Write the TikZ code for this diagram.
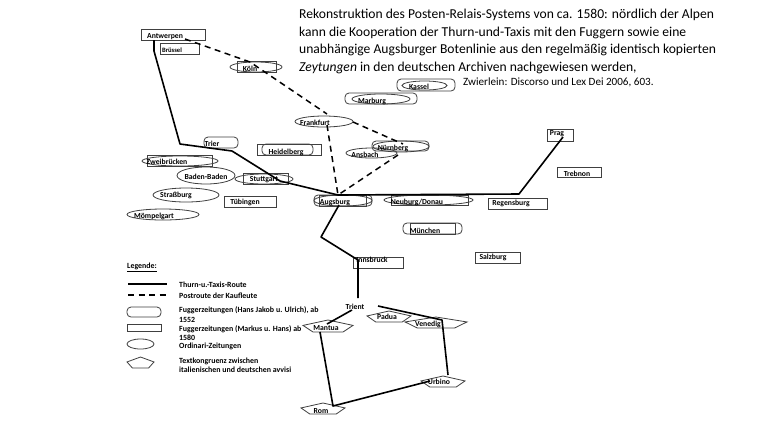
\documentclass[tikz,border=0pt]{standalone}
\usepackage{fontspec}
\usetikzlibrary{shapes.geometric}
\setmainfont{Carlito}
\newcommand\shp[6]{\node[#1,minimum width={(#5-#3)*1pt},minimum height={(#6-#4)*1pt}] (#2) at ({(#3+#5)/2},{(#4+#6)/2}) {};}
\newcommand\pent[5]{\draw[outl] ({#2},{#3+0.45*(#5-#3)}) -- ({(#2+#4)/2},{#3}) -- ({#4},{#3+0.45*(#5-#3)}) -- ({#4-0.2*(#4-#2)},{#5}) -- ({#2+0.2*(#4-#2)},{#5}) -- cycle;
  \coordinate (#1) at ({(#2+#4)/2},{(#3+#5)/2});}
\newcommand\lab[4]{\node[lab] (#1) at (#2,#3) {#4};}
\newcommand\leg[4]{\node[legt] (#1) at (#2,#3) {#4};}
\tikzset{
  outl/.style={draw=black!75,line width=0.8pt},
  rbx/.style={outl,rectangle,inner sep=0pt},
  pill/.style={outl,rectangle,rounded corners=4pt,inner sep=0pt},
  ell/.style={outl,ellipse,inner sep=0pt},
  lab/.style={font=\fontsize{7.7}{8}\selectfont\bfseries,text=black,inner sep=0pt},
  legt/.style={font=\fontsize{7.9}{8}\selectfont\bfseries,text=black,inner sep=0pt,anchor=west},
  ttl/.style={font=\fontsize{13.6}{15}\selectfont,inner sep=0pt,anchor=base west},
  taxis/.style={draw=black,line width=1.6pt,line join=round},
  post/.style={draw=black,line width=1.5pt,dash pattern=on 6pt off 4.5pt}
}
\begin{document}
\begin{tikzpicture}[x=1pt,y=-1pt]
\useasboundingbox[fill=white] (0,0) rectangle (768,432);
% title
\node[ttl] (t1) at (299,18.5) {Rekonstruktion des Posten-Relais-Systems von ca. 1580: nördlich der Alpen};
\node[ttl] (t2) at (299,36) {kann die Kooperation der Thurn-und-Taxis mit den Fuggern sowie eine};
\node[ttl] (t3) at (299,53.5) {unabhängige Augsburger Botenlinie aus den regelmäßig identisch kopierten};
\node[ttl] (t4) at (299,71) {\textit{Zeytungen} in den deutschen Archiven nachgewiesen werden,};
\node[ttl,font=\fontsize{11.1}{12}\selectfont] (t5) at (463,85.5) {Zwierlein: Discorso und Lex Dei 2006, 603.};
% shapes
\shp{rbx}{sAnt}{141}{29}{205}{40}
\shp{rbx}{sBru}{160}{43}{199}{54}
\shp{rbx}{sKoeR}{237}{61}{276}{72}
\shp{ell}{sKoeE}{230}{62}{282}{72}
\shp{ell}{sFra}{295}{116}{353}{127}
\shp{pill}{sKasR}{397}{79}{455}{91}
\shp{ell}{sKasE}{402}{81}{447}{90}
\shp{pill}{sMarR}{345}{93}{417}{104}
\shp{ell}{sMarE}{352}{94}{410}{104}
\shp{pill}{sNueR}{372}{141}{429}{151}
\shp{ell}{sNueE}{373}{141}{429}{152}
\shp{ell}{sAns}{346}{148}{397}{158}
\shp{rbx}{sHeiR}{257}{144}{321}{155}
\shp{pill}{sHeiP}{262}{144}{313}{155}
\shp{pill}{sTri}{204}{137}{238}{148}
\shp{rbx}{sZweR}{147}{155}{212}{166}
\shp{ell}{sZweE}{142}{156}{218}{166}
\shp{ell}{sBad}{177}{167}{235}{184}
\shp{rbx}{sStuR}{243}{173}{288}{184}
\shp{ell}{sStuE}{235}{174}{293}{184}
\shp{ell}{sStr}{153}{188}{219}{202}
\shp{rbx}{sTue}{224}{196}{276}{207}
\shp{ell}{sMoe}{127}{209}{199}{220}
\shp{pill}{sAugP}{314}{195}{372}{206}
\shp{rbx}{sAugR}{319}{195}{366}{206}
\shp{ell}{sAugE}{314}{195}{372}{206}
\shp{ell}{sNeuE}{384}{195}{473}{205}
\shp{rbx}{sNeuR}{391}{195}{468}{205}
\shp{rbx}{sReg}{488}{198}{547}{209}
\shp{pill}{sMueP}{403}{223}{462}{234}
\shp{rbx}{sMueR}{410}{223}{455}{234}
\shp{rbx}{sInn}{353}{257}{403}{268}
\shp{rbx}{sSal}{475}{252}{520}{263}
\shp{rbx}{sPra}{547}{129}{573}{141}
\shp{rbx}{sTre}{557}{167}{601}{177}
\pent{pPad}{367}{311}{411}{322}
\pent{pVen}{405}{317}{467}{328}
\pent{pMan}{303}{320}{353}{332}
\pent{pUrb}{421}{376}{465}{387}
\pent{pRom}{301}{403}{345}{414}
% waypoints
\coordinate (a0) at (154,40);
\coordinate (a1) at (154,51);
\coordinate (a2) at (180,144);
\coordinate (a3) at (232,151);
\coordinate (a4) at (280,181);
\coordinate (aug) at (338,195);
\coordinate (a5) at (519,194);
\coordinate (pra) at (563,137);
\coordinate (a6) at (339,205);
\coordinate (a7) at (321,237);
\coordinate (a8) at (358,260);
\coordinate (a9) at (358,298);
\coordinate (b0) at (352,310);
\coordinate (b1) at (327,324);
\coordinate (b2) at (320,332);
\coordinate (rom) at (333,406);
\coordinate (urb) at (430,381);
\coordinate (c0) at (378,306);
\coordinate (c1) at (442,320);
\coordinate (c2) at (448,375);
\coordinate (d0) at (185,39);
\coordinate (koe) at (250,62);
\coordinate (fra) at (327,114);
\coordinate (d1) at (353,122);
\coordinate (nue) at (403,144);
\coordinate (d2) at (327,125);
\coordinate (d3) at (398,155);
% routes
\draw[taxis] (a0) -- (a1) -- (a2) -- (a3) -- (a4) -- (aug) -- (a5) -- (pra);
\draw[taxis] (a6) -- (a7) -- (a8) -- (a9);
\draw[taxis] (b0) -- (b1);
\draw[taxis] (b2) -- (rom) -- (urb);
\draw[taxis] (c0) -- (c1) -- (c2);
\draw[post] (d0) -- (koe) -- (fra);
\draw[post] (d1) -- (nue);
\draw[post] (d2) -- (aug);
\draw[post] (d3) -- (aug);
% labels
\lab{lAnt}{165}{36.5}{Antwerpen}
\lab{lBru}{172}{50}{\fontsize{6.6}{8}\selectfont Brüssel}
\lab{lKoe}{250}{69}{Köln}
\lab{lFra}{315}{122.5}{Frankfurt}
\lab{lKas}{419}{87}{Kassel}
\lab{lMar}{372}{101}{Marburg}
\lab{lNue}{393}{148}{Nürnberg}
\lab{lAns}{365}{155}{Ansbach}
\lab{lHei}{286}{152}{Heidelberg}
\lab{lTri}{212}{144}{Trier}
\lab{lZwe}{167}{162}{Zweibrücken}
\lab{lBad}{206}{177}{Baden-Baden}
\lab{lStu}{264}{180}{Stuttgart}
\lab{lStr}{176}{195}{Straßburg}
\lab{lTue}{245}{202}{Tübingen}
\lab{lMoe}{154}{216}{Mömpelgart}
\lab{lAug}{335}{202}{Augsburg}
\lab{lNeu}{417}{202}{Neuburg/Donau}
\lab{lReg}{511}{203}{Regensburg}
\lab{lMue}{425}{231}{München}
\lab{lInn}{372}{260}{Innsbruck}
\lab{lSal}{493}{257}{Salzburg}
\lab{lPra}{557}{134}{Prag}
\lab{lTrb}{577}{174}{Trebnon}
\lab{lTrn}{355}{307}{Trient}
\lab{lPad}{387}{317}{Padua}
\lab{lVen}{428}{324.5}{Venedig}
\lab{lMan}{326}{328}{Mantua}
\lab{lUrb}{439}{382}{Urbino}
\lab{lRom}{321}{411}{Rom}
% legend
\leg{gT}{127}{267}{\underline{Legende:}}
\coordinate (g1a) at (128,284); \coordinate (g1b) at (167,284);
\coordinate (g2a) at (128,295); \coordinate (g2b) at (167,295);
\draw[taxis] (g1a) -- (g1b);
\draw[post] (g2a) -- (g2b);
\shp{pill}{g3}{127}{307}{161}{317}
\shp{rbx}{g4}{127}{324}{161}{331}
\shp{ell}{g5}{127}{339}{154}{349}
\pent{g6}{127}{357}{154}{368}
\leg{g1t}{179}{285}{Thurn-u.-Taxis-Route}
\leg{g2t}{179}{295.5}{Postroute der Kaufleute}
\leg{g3t}{179}{310}{Fuggerzeitungen (Hans Jakob u. Ulrich), ab}
\leg{g3u}{179}{320}{1552}
\leg{g4t}{179}{329}{Fuggerzeitungen (Markus u. Hans) ab}
\leg{g4u}{179}{337.5}{1580}
\leg{g5t}{179}{346}{Ordinari-Zeitungen}
\leg{g6t}{179}{361}{Textkongruenz zwischen}
\leg{g6u}{179}{370}{italienischen und deutschen avvisi}
\end{tikzpicture}
\end{document}
